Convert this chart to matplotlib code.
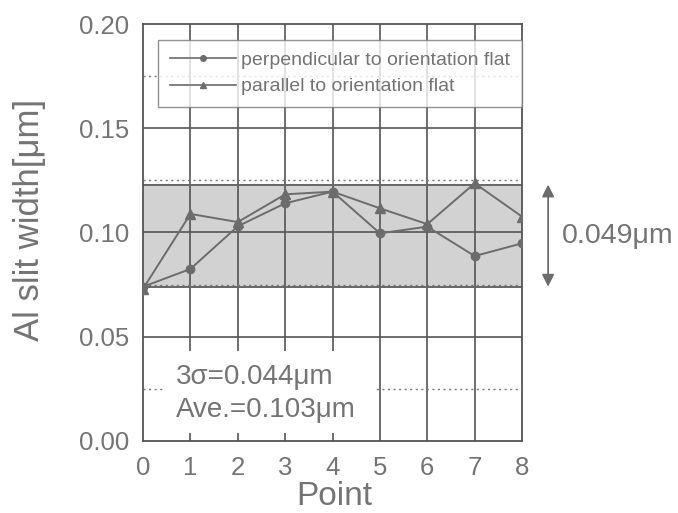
import matplotlib
matplotlib.use("Agg")
import matplotlib.pyplot as plt
from matplotlib.patches import Rectangle
from matplotlib.lines import Line2D

plt.rcParams['font.family'] = ['Liberation Sans', 'DejaVu Sans']

points = [0, 1, 2, 3, 4, 5, 6, 7, 8]
perpendicular = [0.074, 0.0825, 0.103, 0.114, 0.1196, 0.0996, 0.1028, 0.0887, 0.0948]
parallel = [0.073, 0.1089, 0.105, 0.1183, 0.1196, 0.1116, 0.104, 0.1236, 0.1076]
band_low, band_high = 0.074, 0.123
yticks = [0.00, 0.05, 0.10, 0.15, 0.20]
minor_lines = [0.025, 0.075, 0.125, 0.175]
labels = ["perpendicular to orientation flat", "parallel to orientation flat"]
sigma_text = "3σ=0.044μm"
ave_text = "Ave.=0.103μm"
range_text = "0.049μm"

GRAY = "#6c6c6c"
TEXT = "#747474"

fig = plt.figure(figsize=(6.78, 5.13), dpi=100)
ax = fig.add_axes([0.211, 0.1404, 0.559, 0.8128])
ax.set_xlim(0, 8)
ax.set_ylim(0, 0.20)

# grid
for x in points[1:-1]:
    ax.axvline(x, color="#555555", lw=1.2, zorder=1)
for y in yticks[1:-1]:
    ax.axhline(y, color="#555555", lw=1.2, zorder=1)
for y in minor_lines:
    ax.axhline(y, color="#777777", lw=1.0, ls=(0, (1.5, 2.5)), zorder=1)

# shaded +-3 sigma band
ax.axhspan(band_low, band_high, color="#d2d2d2", zorder=0.5, lw=0)
ax.axhline(band_low, color="#666666", lw=1.4, zorder=1.2)
ax.axhline(band_high, color="#666666", lw=1.4, zorder=1.2)

ax.plot(points, perpendicular, color=GRAY, lw=1.4, marker="o", ms=6,
        mec=GRAY, mfc=GRAY, zorder=3)
ax.plot(points, parallel, color=GRAY, lw=1.4, marker="^", ms=7,
        mec=GRAY, mfc=GRAY, zorder=3)

# white box behind the statistics text
ax.add_patch(Rectangle((0.45, 0.004), 4.45, 0.039, facecolor="white",
                       edgecolor="none", zorder=2))
ax.text(0.7, 0.0308, sigma_text, fontsize=20, color=TEXT, va="center", zorder=4)
ax.text(0.7, 0.0148, ave_text, fontsize=20, color=TEXT, va="center", zorder=4)

# range arrow on the right
ax.annotate("", xy=(8.55, band_high), xytext=(8.55, band_low),
            arrowprops=dict(arrowstyle="<|-|>", color=GRAY, lw=1.3,
                            mutation_scale=18, shrinkA=0, shrinkB=0),
            annotation_clip=False)
ax.text(8.84, 0.0985, range_text, fontsize=20.5, color=TEXT, va="center",
        ha="left", clip_on=False)

handles = [
    Line2D([], [], color=GRAY, lw=1.2, marker="o", ms=4),
    Line2D([], [], color=GRAY, lw=1.2, marker="^", ms=5),
]
leg = ax.legend(handles, labels, loc="upper left",
                bbox_to_anchor=(0.04, 0.962), fontsize=14, frameon=True,
                fancybox=False, handlelength=3.4, handletextpad=0.25,
                borderpad=0.6, labelspacing=0.45, borderaxespad=0,
                numpoints=1)
leg.get_frame().set_edgecolor("#777777")
leg.get_frame().set_linewidth(1.0)
for t in leg.get_texts():
    t.set_color(TEXT)
leg.set_zorder(5)

ax.set_xticks(points)
ax.set_yticks(yticks)
ax.set_yticklabels([f"{v:.2f}" for v in yticks])
ax.tick_params(axis="both", direction="in", length=0, labelsize=18.5,
               labelcolor=TEXT)
ax.tick_params(axis="x", pad=11)
ax.tick_params(axis="y", pad=10)
for s in ax.spines.values():
    s.set_color("#555555")
    s.set_linewidth(1.3)

ax.set_xlabel("Point", fontsize=24, color=TEXT)
ax.set_ylabel("Al slit width[μm]", fontsize=25, color=TEXT)
ax.xaxis.set_label_coords(0.505, -0.095)
ax.yaxis.set_label_coords(-0.255, 0.53)

fig.savefig("out.png", dpi=100)
